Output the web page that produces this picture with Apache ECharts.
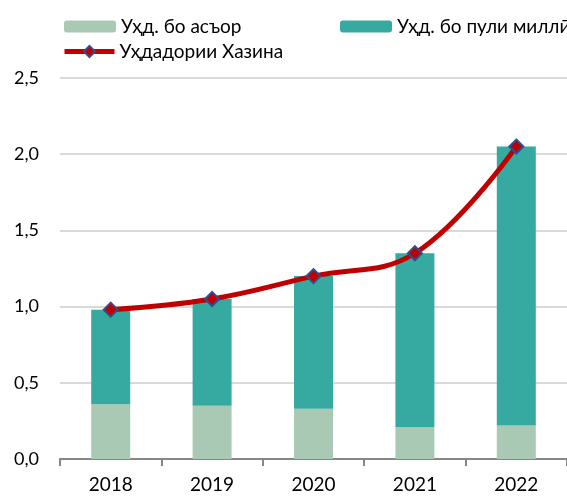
<!DOCTYPE html>
<html>
<head>
<meta charset="utf-8">
<script src="https://cdn.jsdelivr.net/npm/echarts@6/dist/echarts.min.js"></script>
<style>
  html, body { margin: 0; padding: 0; background: #fff; }
  #chart { width: 567px; height: 501px; }
</style>
</head>
<body>
<div id="chart"></div>
<script>
var years = ['2018', '2019', '2020', '2021', '2022']
var foreignDebt = [0.36, 0.35, 0.33, 0.21, 0.22]
var nationalDebt = [0.62, 0.70, 0.87, 1.14, 1.83]
var treasuryDebt = [0.98, 1.05, 1.20, 1.35, 2.05]
var yTicks = [0, 0.5, 1.0, 1.5, 2.0, 2.5]

var fontName = 'Lato, "Open Sans", sans-serif'

var chart = echarts.init(document.getElementById('chart'))

chart.setOption({
  animation: false,
  textStyle: { fontFamily: fontName, color: '#000' },
  legend: [
    {
      data: ['Уҳд. бо асъор'],
      left: 59, top: 12,
      itemWidth: 52, itemHeight: 12, itemGap: 6,
      textStyle: { fontSize: 19, color: '#000', fontFamily: fontName }
    },
    {
      data: ['Уҳд. бо пули миллӣ'],
      left: 335, top: 12,
      itemWidth: 52, itemHeight: 12,
      textStyle: { fontSize: 19, color: '#000', fontFamily: fontName }
    },
    {
      data: [{ name: 'Уҳдадории Хазина', lineStyle: { width: 5 } }],
      left: 57, top: 37,
      itemWidth: 50, itemHeight: 14,
      textStyle: { fontSize: 19, color: '#000', fontFamily: fontName }
    }
  ],
  grid: { left: 60, top: 78, width: 518, height: 381 },
  xAxis: {
    type: 'category',
    data: years,
    axisLine: { lineStyle: { color: '#868686', width: 2 } },
    axisTick: { show: true, length: 7, lineStyle: { color: '#868686', width: 2 } },
    axisLabel: { fontSize: 19, color: '#000', margin: 16, fontFamily: fontName }
  },
  yAxis: {
    type: 'value',
    min: yTicks[0],
    max: yTicks[yTicks.length - 1],
    interval: 0.5,
    axisLine: { show: false },
    axisTick: { show: false },
    splitLine: { lineStyle: { color: '#D9D9D9', width: 2 } },
    axisLabel: {
      fontSize: 18, color: '#000', margin: 21, fontFamily: fontName,
      formatter: function (v) { return v.toFixed(1).replace('.', ',') }
    }
  },
  series: [
    {
      name: 'Уҳд. бо асъор',
      type: 'bar',
      stack: 'debt',
      barWidth: 39,
      data: foreignDebt,
      itemStyle: { color: '#A9C9B5' }
    },
    {
      name: 'Уҳд. бо пули миллӣ',
      type: 'bar',
      stack: 'debt',
      barWidth: 39,
      data: nationalDebt,
      itemStyle: { color: '#36A9A1' }
    },
    {
      name: 'Уҳдадории Хазина',
      type: 'line',
      smooth: 0.4,
      data: treasuryDebt,
      symbol: 'diamond',
      symbolSize: 14,
      lineStyle: { color: '#C00000', width: 5 },
      itemStyle: { color: '#C00000', borderColor: '#2F4F8F', borderWidth: 2 },
      z: 5
    }
  ]
})
</script>
</body>
</html>
